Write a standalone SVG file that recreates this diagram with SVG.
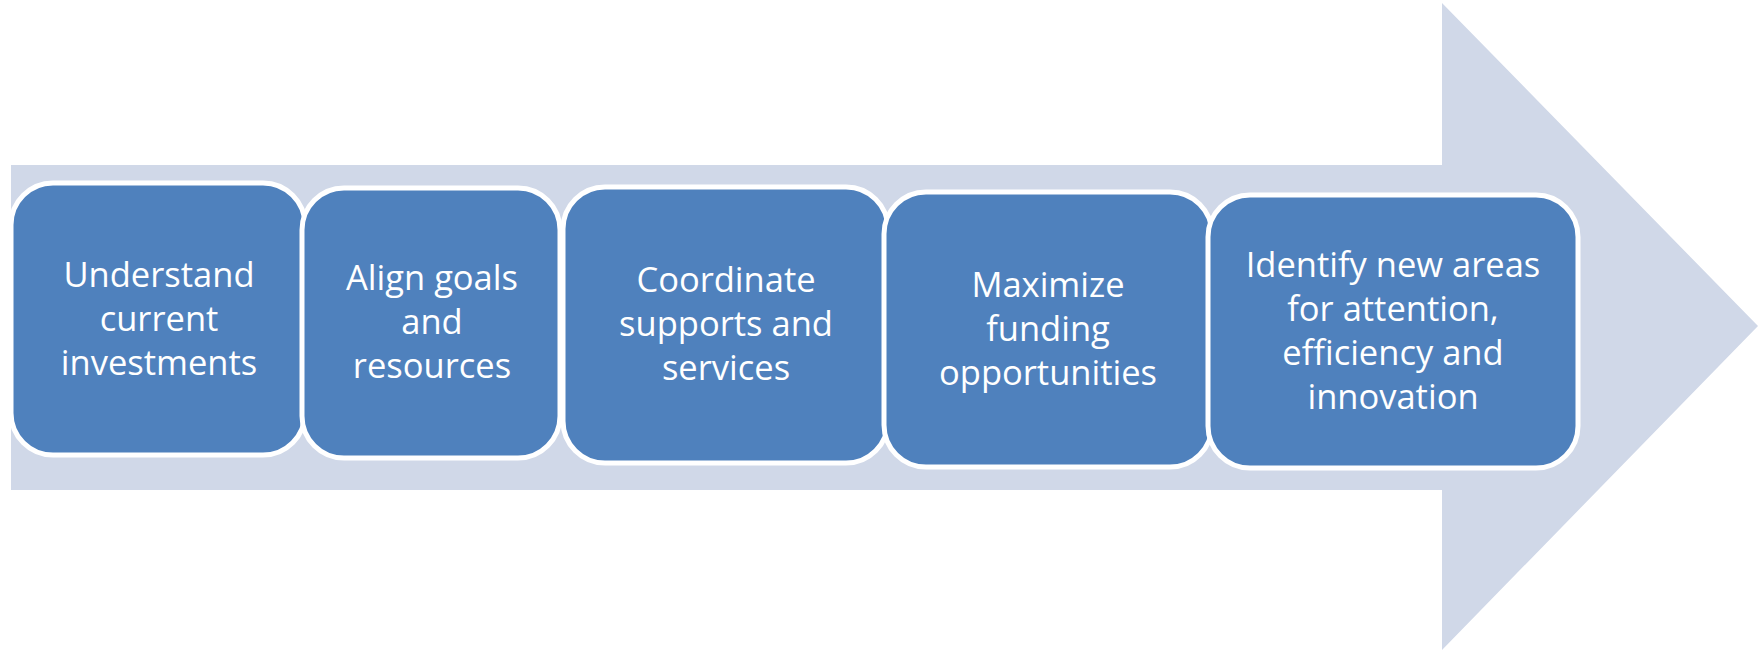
<svg xmlns="http://www.w3.org/2000/svg" width="1758" height="650" viewBox="0 0 1758 650">
  <style>
    .box { fill: #4F81BD; stroke: #FFFFFF; stroke-width: 5; }
    .lbl { fill: #FFFFFF; font-family: "Open Sans", "Liberation Sans", sans-serif; font-size: 34.5px; text-anchor: middle; }
  </style>
  <rect width="1758" height="650" fill="#FFFFFF"/>
  <g id="arrow">
    <polygon points="11,165 1442,165 1442,3 1758,326 1442,650 1442,490 11,490" fill="#D0D8E8"/>
  </g>
  <g id="connectors"></g>
  <g id="node1">
    <rect class="box" x="11" y="183" width="294" height="272" rx="42" ry="42"/>
    <text class="lbl"><tspan x="159" y="287">Understand</tspan><tspan x="159" y="331">current</tspan><tspan x="159" y="375">investments</tspan></text>
  </g>
  <g id="node2">
    <rect class="box" x="302" y="188" width="258" height="270" rx="42" ry="42"/>
    <text class="lbl"><tspan x="432" y="290">Align goals</tspan><tspan x="432" y="334">and</tspan><tspan x="432" y="378">resources</tspan></text>
  </g>
  <g id="node3">
    <rect class="box" x="563" y="187" width="325" height="276" rx="42" ry="42"/>
    <text class="lbl"><tspan x="726" y="292">Coordinate</tspan><tspan x="726" y="336">supports and</tspan><tspan x="726" y="380">services</tspan></text>
  </g>
  <g id="node4">
    <rect class="box" x="884" y="192" width="328" height="275" rx="42" ry="42"/>
    <text class="lbl"><tspan x="1048" y="297">Maximize</tspan><tspan x="1048" y="341">funding</tspan><tspan x="1048" y="385">opportunities</tspan></text>
  </g>
  <g id="node5">
    <rect class="box" x="1208" y="195" width="370" height="273" rx="42" ry="42"/>
    <text class="lbl"><tspan x="1393" y="277">Identify new areas</tspan><tspan x="1393" y="321">for attention,</tspan><tspan x="1393" y="365">efficiency and</tspan><tspan x="1393" y="409">innovation</tspan></text>
  </g>
</svg>
